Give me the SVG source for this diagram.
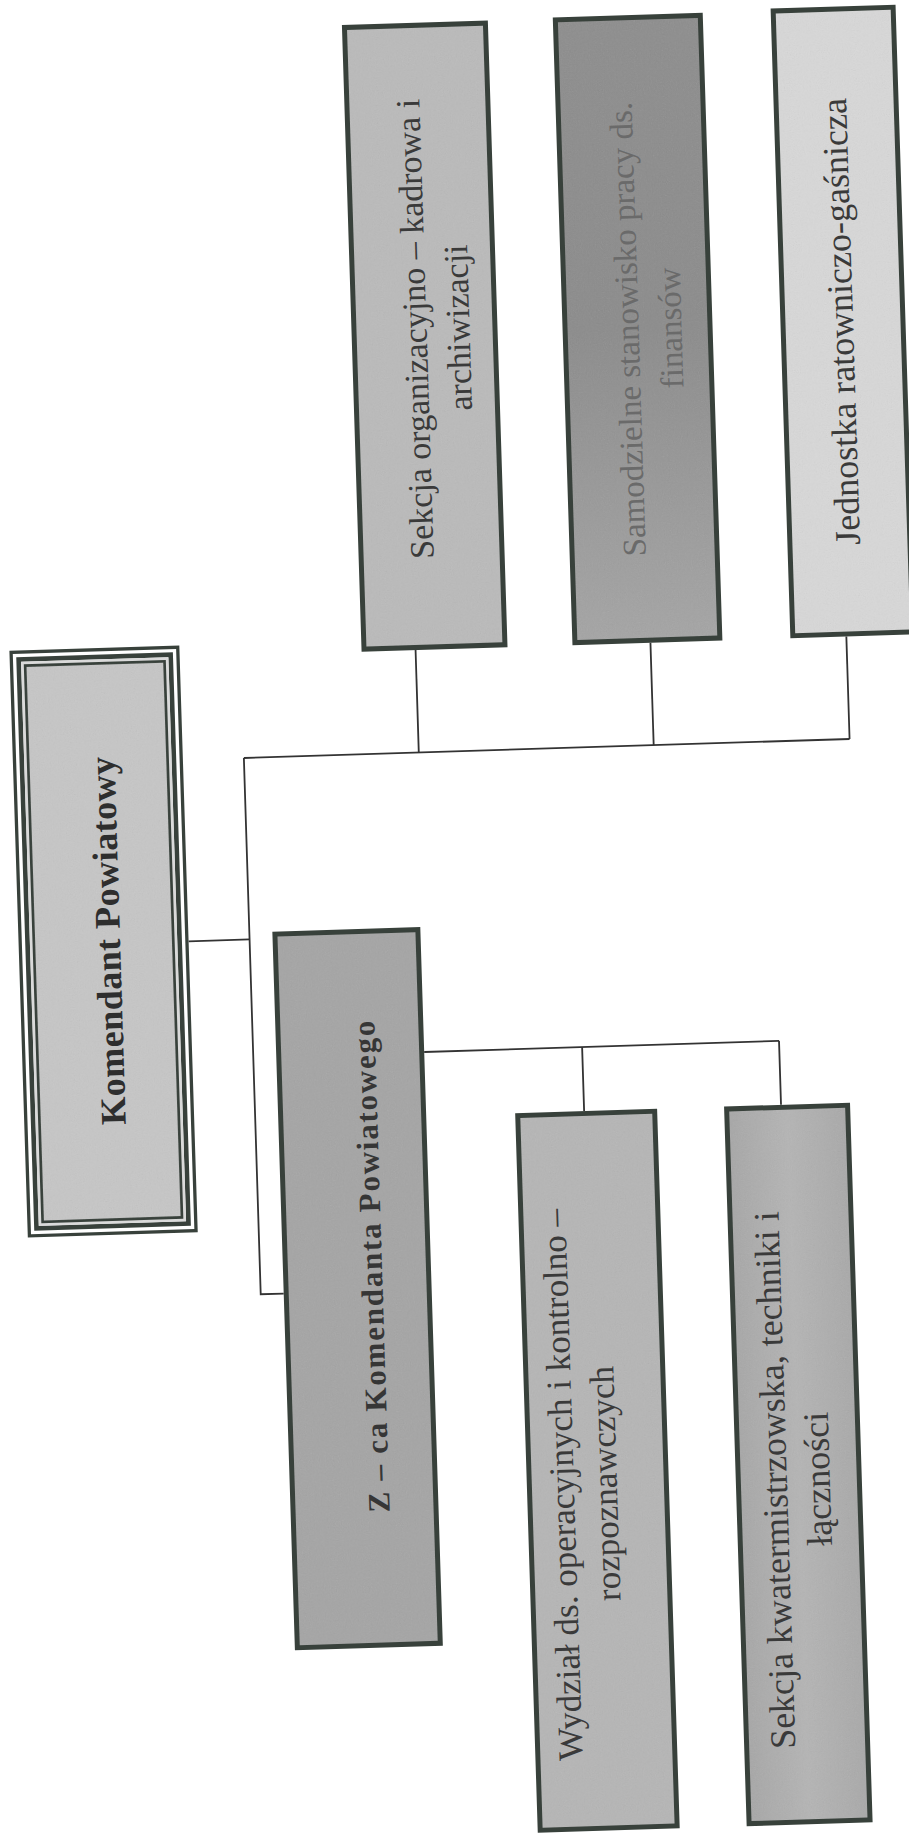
<svg xmlns="http://www.w3.org/2000/svg" width="909" height="1837" viewBox="0 0 909 1837">
<defs>
<style>
.box{stroke:#38413b;stroke-width:5}
.ln{stroke:#333;stroke-width:1.8;fill:none}
.t{font-family:"Liberation Serif","Times New Roman",serif;font-size:36px;fill:#3a3a3a;text-anchor:middle}
.b{font-weight:bold;fill:#2e2e2e}
.gr{opacity:0.16}
</style>
<filter id="grain" x="0" y="0" width="1" height="1">
<feTurbulence type="fractalNoise" baseFrequency="0.85" numOctaves="2" seed="7"/>
<feColorMatrix type="saturate" values="0"/>
</filter>
<linearGradient id="gSam" x1="0" y1="0" x2="0" y2="1">
<stop offset="0" stop-color="#8c8c8c"/>
<stop offset="0.5" stop-color="#8a8a8a"/>
<stop offset="1" stop-color="#a4a4a4"/>
</linearGradient>
<linearGradient id="gKw" x1="0" y1="0" x2="1" y2="0">
<stop offset="0" stop-color="#a6a6a6"/>
<stop offset="0.5" stop-color="#b4b4b4"/>
<stop offset="1" stop-color="#a8a8a8"/>
</linearGradient>
</defs>
<rect width="909" height="1837" fill="#ffffff"/>
<g transform="rotate(-1.8 454 918)">
<g id="connectors" class="ln">
<path d="M188 933 H249"/>
<path d="M249 751.5 V1288 H272"/>
<path d="M249 751.5 H855"/>
<path d="M424 649 V751.5"/>
<path d="M659 649 V751.5"/>
<path d="M855 649 V751.5"/>
<path d="M420 1051 H775"/>
<path d="M578 1051 V1115"/>
<path d="M775 1051 V1115"/>
</g>
<g id="komendant">
<rect x="19.65" y="638.65" width="166.7" height="583.7" fill="#ffffff" stroke="#38413b" stroke-width="3.3"/>
<rect x="27" y="646" width="152" height="569" fill="none" stroke="#38413b" stroke-width="4.7"/>
<rect x="29.3" y="648.3" width="147.4" height="564.4" fill="#dadada"/>
<rect x="33.3" y="652.3" width="139.4" height="556.4" fill="#c6c6c6" stroke="#38413b" stroke-width="2.7"/>
<rect class="gr" x="34.7" y="653.7" width="136.6" height="553.6" filter="url(#grain)"/>
<text class="t b" font-size="33" transform="translate(109 930) rotate(-90)" y="10.5" textLength="368" lengthAdjust="spacing">Komendant Powiatowy</text>
</g>
<g id="sekcja-org">
<rect class="box" x="372.5" y="24.5" width="141" height="622" fill="#bababa"/>
<rect class="gr" x="375" y="27" width="136" height="617" filter="url(#grain)"/>
<text class="t" style="font-size:34px" transform="translate(455 328) rotate(-90)"><tspan x="0" y="-10">Sekcja organizacyjno – kadrowa i</tspan><tspan x="0" y="33">archiwizacji</tspan></text>
</g>
<g id="samodzielne">
<rect class="box" x="583.5" y="23.5" width="145" height="623" fill="url(#gSam)"/>
<rect class="gr" x="586" y="26" width="140" height="618" filter="url(#grain)"/>
<text class="t" style="fill:#6a6a6a;font-size:33px" transform="translate(667 335) rotate(-90)"><tspan x="0" y="-10">Samodzielne stanowisko pracy ds.</tspan><tspan x="0" y="33">finansów</tspan></text>
</g>
<g id="jednostka">
<rect class="box" x="801.5" y="21.5" width="120" height="625" fill="#d8d8d8"/>
<rect class="gr" x="804" y="24" width="115" height="620" filter="url(#grain)"/>
<text class="t" transform="translate(860 334) rotate(-90)" y="11.5">Jednostka ratowniczo-gaśnicza</text>
</g>
<g id="zastepca">
<rect class="box" x="274.5" y="928.5" width="143" height="714" fill="#a4a4a4"/>
<rect class="gr" x="277" y="931" width="138" height="709" filter="url(#grain)"/>
<text class="t b" style="fill:#363636;font-size:31px" transform="translate(361 1264) rotate(-90)" y="10" textLength="492" lengthAdjust="spacing">Z – ca Komendanta Powiatowego</text>
</g>
<g id="wydzial">
<rect class="box" x="511.5" y="1117.5" width="137" height="715" fill="#b5b5b5"/>
<rect class="gr" x="514" y="1120" width="132" height="710" filter="url(#grain)"/>
<text class="t" style="font-size:35px" transform="translate(566 1488) rotate(-90)"><tspan x="0" y="-10">Wydział ds. operacyjnych i kontrolno –</tspan><tspan x="0" y="33">rozpoznawczych</tspan></text>
</g>
<g id="sekcja-kw">
<rect class="box" x="720.5" y="1117.5" width="121" height="715" fill="url(#gKw)"/>
<rect class="gr" x="723" y="1120" width="116" height="710" filter="url(#grain)"/>
<text class="t" style="font-size:36px" transform="translate(779 1490) rotate(-90)"><tspan x="0" y="-10">Sekcja kwatermistrzowska, techniki i</tspan><tspan x="0" y="33">łączności</tspan></text>
</g>
</g>
</svg>
